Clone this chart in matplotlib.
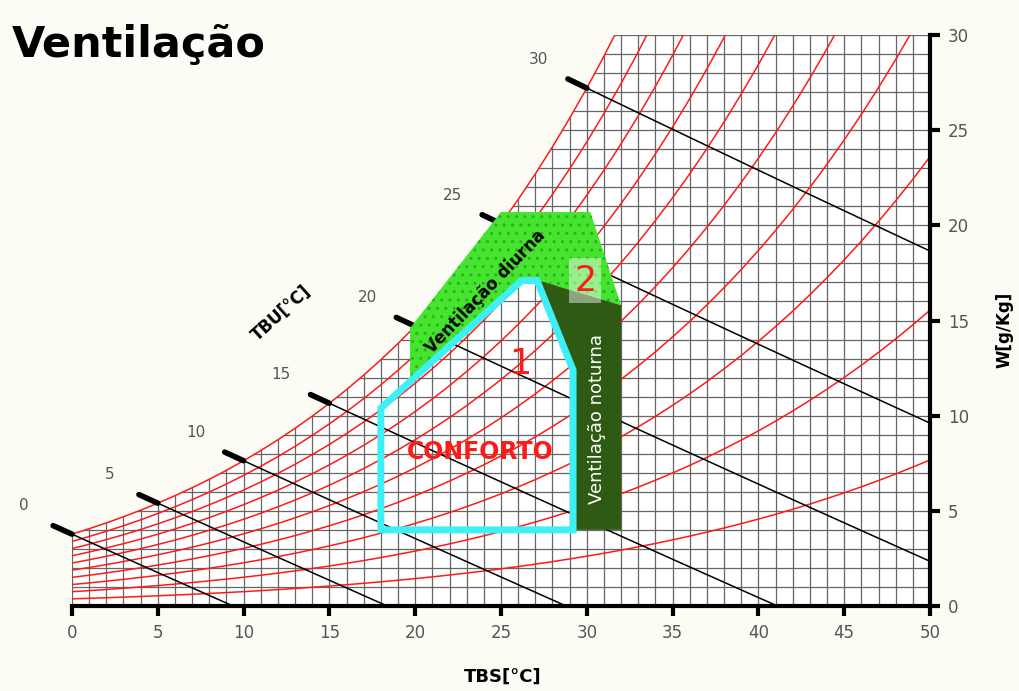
import numpy as np
import matplotlib.pyplot as plt
from matplotlib.patches import Polygon

# dry bulb temperature [°C] and saturation vapour pressure [kPa]
tbs = list(range(0, 51))
psat = [0.6113, 0.6571, 0.7060, 0.7581, 0.8135, 0.8726, 0.9354, 1.0021, 1.0730, 1.1482,
        1.2282, 1.3130, 1.4028, 1.4981, 1.5990, 1.7058, 1.8188, 1.9384, 2.0647, 2.1983,
        2.3393, 2.4882, 2.6453, 2.8111, 2.9858, 3.1699, 3.3639, 3.5681, 3.7831, 4.0092,
        4.2470, 4.4969, 4.7596, 5.0354, 5.3251, 5.6290, 5.9479, 6.2823, 6.6328, 7.0002,
        7.3849, 7.7878, 8.2096, 8.6508, 9.1124, 9.5950, 10.099, 10.627, 11.177, 11.752,
        12.352]

ur = [10, 20, 30, 40, 50, 60, 70, 80, 90, 100]   # relative humidity curves [%]
tbu = [0, 5, 10, 15, 20, 25, 30]                  # wet bulb lines [°C]

# zones (TBS [°C], W [g/kg])
conforto_tbs = [18.0, 29.2, 29.2, 27.1, 26.2, 18.0]
conforto_w = [4.0, 4.0, 12.4, 17.1, 17.1, 10.4]

diurna_tbs = [19.7, 19.7, 25.0, 30.2, 32.0, 27.2, 26.5]
diurna_w = [11.6, 14.6, 20.7, 20.7, 15.8, 17.1, 17.1]

noturna_tbs = [29.2, 32.0, 32.0, 27.2, 29.2]
noturna_w = [4.0, 4.0, 15.8, 17.1, 12.4]

P = 101.325
bg = '#fcfbf4'


def w_from_pv(pv):
    return 622.0 * np.asarray(pv) / (P - np.asarray(pv))


t_arr = np.array(tbs, dtype=float)
ps = np.array(psat)
w_sat = w_from_pv(ps)

fig = plt.figure(figsize=(10.2, 6.91), dpi=100, facecolor=bg)
ax = fig.add_axes([72/1020, 85/691, 858/1020, 571/691])
ax.set_facecolor('white')
ax.set_xlim(0, 50)
ax.set_ylim(0, 30)

# grid under the saturation curve
for t in range(0, 51):
    ax.axvline(t, color='#666666', lw=0.9, zorder=1)
for w in range(0, 31):
    ax.axhline(w, color='#666666', lw=0.9, zorder=1)
ax.fill_between(t_arr, w_sat, 31, color=bg, lw=0, zorder=2)

# relative humidity curves
for u in ur:
    ax.plot(t_arr, w_from_pv(u / 100 * ps), color='#ff1a1a', lw=1.1, zorder=4)

# wet bulb lines
for tw in tbu:
    ws = w_from_pv(psat[tw]) / 1000
    t0 = tw + (2501 - 2.326 * tw) * ws / 1.006
    tt = np.linspace(tw, min(t0, 50), 30)
    ww = 1000 * ((2501 - 2.326 * tw) * ws - 1.006 * (tt - tw)) / (2501 + 1.86 * tt - 4.186 * tw)
    ax.plot(tt, ww, color='black', lw=1.1, zorder=5)
    te = np.array([tw - 1.1, tw])
    we = 1000 * ((2501 - 2.326 * tw) * ws - 1.006 * (te - tw)) / (2501 + 1.86 * te - 4.186 * tw)
    ax.plot(te, we, color='black', lw=4, solid_capstyle='round', zorder=5, clip_on=False)
    ax.text(tw - 2.8, ws * 1000 + 1.5, str(tw), color='#555555', fontsize=11,
            ha='center', va='center')

# zones
ax.add_patch(Polygon(list(zip(diurna_tbs, diurna_w)), closed=True, facecolor='#45e52f',
                     edgecolor='none', zorder=6))
ax.add_patch(Polygon(list(zip(diurna_tbs, diurna_w)), closed=True, facecolor='none',
                     edgecolor='#2fae22', hatch='..', lw=0, zorder=6))
ax.add_patch(Polygon(list(zip(noturna_tbs, noturna_w)), closed=True, facecolor='#2f5a14',
                     edgecolor='none', zorder=7))
ax.add_patch(Polygon(list(zip(conforto_tbs, conforto_w)), closed=True, fill=False,
                     edgecolor='#3ef0f6', lw=5, joinstyle='miter', zorder=8))

ax.text(24.1, 16.5, 'Ventilação diurna', rotation=46, rotation_mode='anchor',
        ha='center', va='center', fontsize=12, fontweight='bold', zorder=9)
ax.text(30.6, 9.8, 'Ventilação noturna', rotation=90, rotation_mode='anchor',
        ha='center', va='center', fontsize=13, color='white', zorder=9)
ax.text(26.1, 12.7, '1', color='#ff1a1a', fontsize=25, ha='center', va='center', zorder=9)
ax.text(29.9, 17.1, '2', color='#ff1a1a', fontsize=25, ha='center', va='center', zorder=9,
        bbox=dict(boxstyle='square,pad=0.15', facecolor='white', edgecolor='none', alpha=0.45))
ax.text(23.8, 8.1, 'CONFORTO', color='#ff1a1a', fontsize=17, fontweight='bold',
        ha='center', va='center', zorder=9)
ax.text(12.2, 15.4, 'TBU[°C]', rotation=42, rotation_mode='anchor', ha='center',
        va='center', fontsize=12, fontweight='bold', zorder=9)

# axes
for s in ['left', 'top']:
    ax.spines[s].set_visible(False)
for s in ['bottom', 'right']:
    ax.spines[s].set_linewidth(3)
    ax.spines[s].set_zorder(10)
ax.set_xticks(range(0, 51, 5))
ax.set_yticks(range(0, 31, 5))
ax.yaxis.tick_right()
ax.tick_params(axis='both', length=7, width=3, color='black', labelcolor='#555555',
               labelsize=12, direction='out', pad=6)

fig.text(503/1020, 1 - 677/691, 'TBS[°C]', fontsize=13, fontweight='bold',
         ha='center', va='center')
fig.text(1005/1020, 1 - 330/691, 'W[g/Kg]', fontsize=12, fontweight='bold',
         rotation=90, ha='center', va='center')
fig.text(12/1020, 1 - 45/691, 'Ventilação', fontsize=31, fontweight='bold',
         ha='left', va='center')

fig.savefig('out.png', dpi=100, facecolor=bg)
